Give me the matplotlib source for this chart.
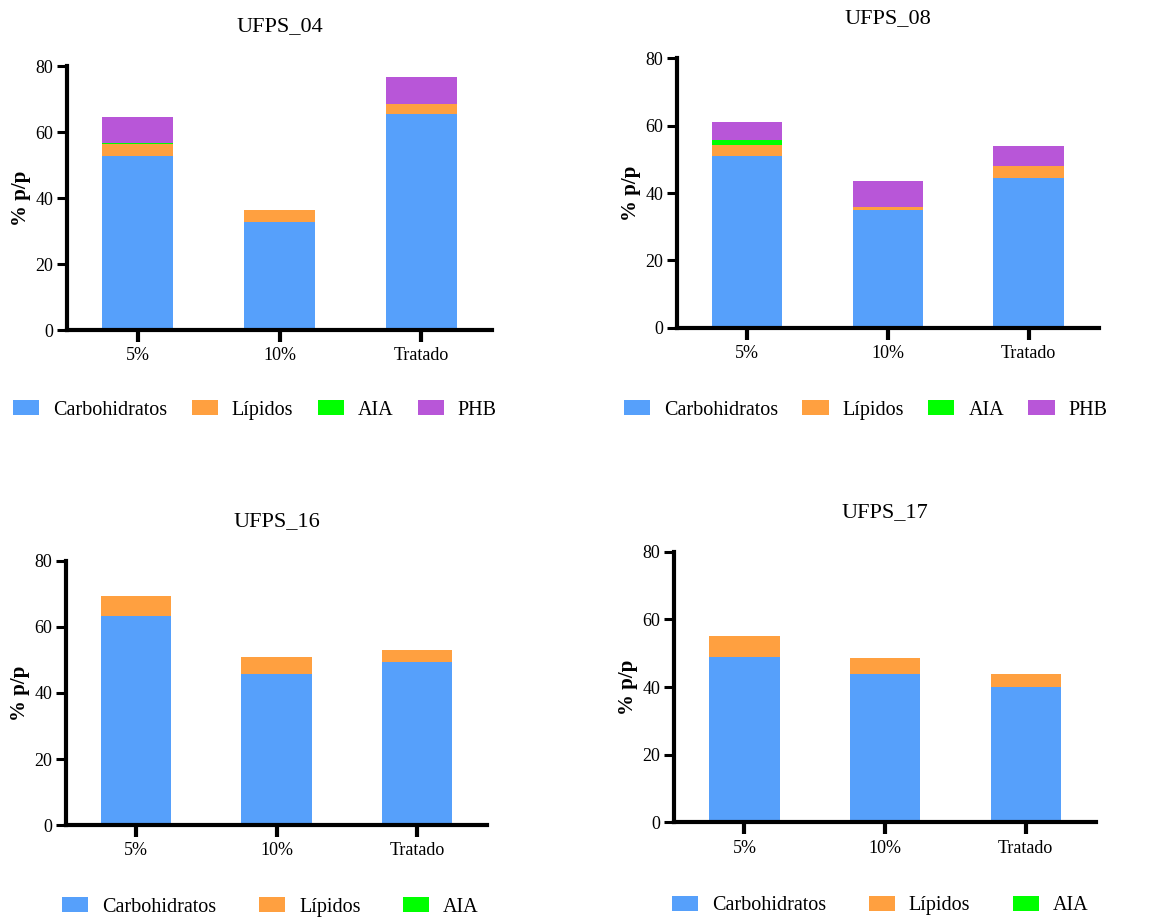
import numpy as np
import matplotlib.pyplot as plt

plt.rcParams['font.family'] = ['Liberation Serif', 'DejaVu Serif']

categorias = ['5%', '10%', 'Tratado']
nombres = ['Carbohidratos', 'Lípidos', 'AIA', 'PHB']
colores = ['#56A0FB', '#FFA040', '#00FF00', '#B856D8']

# UFPS_04
carb_04 = [52.8, 32.8, 65.6]
lip_04 = [3.6, 3.6, 2.8]
aia_04 = [0.3, 0.0, 0.0]
phb_04 = [7.7, 0.0, 8.4]

# UFPS_08
carb_08 = [51.1, 34.9, 44.4]
lip_08 = [3.2, 0.9, 3.7]
aia_08 = [1.4, 0.0, 0.0]
phb_08 = [5.5, 7.8, 6.0]

# UFPS_16
carb_16 = [63.3, 45.8, 49.4]
lip_16 = [6.1, 5.1, 3.5]
aia_16 = [0.0, 0.0, 0.0]

# UFPS_17
carb_17 = [48.9, 43.8, 39.9]
lip_17 = [6.3, 4.7, 3.9]
aia_17 = [0.0, 0.0, 0.0]


def panel(ax, titulo, series, leg_x, leg_y, colsp):
    x = np.arange(len(categorias))
    base = np.zeros(len(categorias))
    for i, vals in enumerate(series):
        ax.bar(x, vals, 0.5, bottom=base, color=colores[i], label=nombres[i],
               linewidth=0, zorder=2)
        base = base + np.array(vals)
    ax.set_xlim(-0.5, 2.5)
    ax.set_ylim(0, 80)
    ax.set_yticks([0, 20, 40, 60, 80])
    ax.set_xticks(x)
    ax.set_xticklabels(categorias)
    for s in ['top', 'right']:
        ax.spines[s].set_visible(False)
    for s in ['left', 'bottom']:
        ax.spines[s].set_linewidth(3)
        ax.spines[s].set_zorder(3)
    ax.tick_params(axis='x', direction='inout', length=17, width=3, pad=4, labelsize=13)
    ax.tick_params(axis='y', direction='out', length=7, width=2.2, pad=3, labelsize=13)
    ax.set_ylabel('% p/p', fontsize=15, fontweight='bold', labelpad=3)
    ax.set_title(titulo, fontsize=16, pad=25)
    ax.legend(loc='center left', bbox_to_anchor=(leg_x, leg_y), ncol=len(series),
              frameon=False, fontsize=14.5, handlelength=1.3, handleheight=0.75,
              handletextpad=0.7, columnspacing=colsp, borderpad=0, borderaxespad=0)


fig = plt.figure(figsize=(11.69, 9.18), dpi=100)
ax1 = fig.add_axes([0.0573, 0.6405, 0.3636, 0.2876])
ax2 = fig.add_axes([0.5791, 0.6430, 0.3610, 0.2935])
ax3 = fig.add_axes([0.0565, 0.1013, 0.3601, 0.2876])
ax4 = fig.add_axes([0.5766, 0.1042, 0.3610, 0.2948])

panel(ax1, 'UFPS_04', [carb_04, lip_04, aia_04, phb_04], -0.127, -0.303, 1.2)
panel(ax2, 'UFPS_08', [carb_08, lip_08, aia_08, phb_08], -0.126, -0.305, 1.2)
panel(ax3, 'UFPS_16', [carb_16, lip_16, aia_16], -0.0095, -0.31, 2.1)
panel(ax4, 'UFPS_17', [carb_17, lip_17, aia_17], -0.005, -0.308, 2.1)

plt.savefig('out.png', dpi=100)
plt.close()
